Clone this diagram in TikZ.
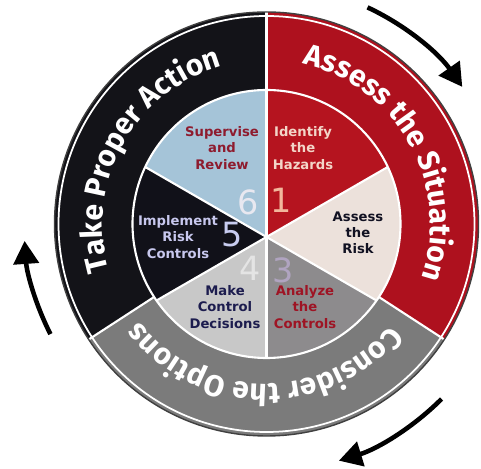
\documentclass[tikz,border=0pt]{standalone}
\usepackage{fontspec}
\setmainfont{DejaVu Sans}
\newfontfamily\ringfont{Fira Sans}
\usepackage{tikz}
\usetikzlibrary{arrows.meta,decorations.text,calc}

\definecolor{ringblack}{HTML}{131318}
\definecolor{ringred}{HTML}{AE111E}
\definecolor{ringgray}{HTML}{7B7B7B}
\definecolor{hazred}{HTML}{B5141F}
\definecolor{riskpink}{HTML}{ECE1DB}
\definecolor{ctrlgray}{HTML}{8D8B8D}
\definecolor{decgray}{HTML}{C8C8C8}
\definecolor{impblack}{HTML}{111119}
\definecolor{revblue}{HTML}{A5C4D8}

\begin{document}
\begin{tikzpicture}[
  seclabel/.style={align=center, font=\fontsize{7.5}{9.2}\selectfont\bfseries},
  secnum/.style={font=\fontsize{19}{19}\selectfont},
  divider/.style={draw=white, line width=1.2pt},
  cycarr/.style={line width=2.6pt, -{Triangle[length=4.6mm,width=5mm]}}]
\useasboundingbox (0,0) rectangle (9.62,9.36);
\coordinate (c) at (5.33,4.88);
\coordinate (hub) at (5.33,4.62);

% outer ring
\foreach \s/\e/\col in {90/-33/ringred, -33/-147/ringgray, 213/90/ringblack}
  \fill[\col] (c) -- ++(\s:4.24) arc[start angle=\s, end angle=\e, radius=4.24] -- cycle;
\foreach \a in {90,-33,213}
  \draw[divider] ($(c)+(\a:2.68)$) -- ($(c)+(\a:4.24)$);
\draw[white, line width=1pt] (c) circle[radius=4.16];
\draw[black!75, line width=0.8pt] (c) circle[radius=4.24];

% ring texts
\path[decorate, decoration={text along path, text align=center,
  text={|\ringfont\bfseries\fontsize{17}{17}\selectfont\color{white}|Assess the Situation}}]
  ($(c)+(99:3.28)$) arc[start angle=99, end angle=-41, radius=3.28];
\path[decorate, decoration={text along path, text align=center,
  text={|\ringfont\bfseries\fontsize{17}{17}\selectfont\color{white}|Take Proper Action}}]
  ($(c)+(221:3.28)$) arc[start angle=221, end angle=81, radius=3.28];
\path[decorate, decoration={text along path, text align=center,
  text={|\ringfont\bfseries\fontsize{17}{17}\selectfont\color{white}|Consider the Options}}]
  ($(c)+(-21:3.2)$) arc[start angle=-21, end angle=-161, radius=3.2];

% inner pie
\begin{scope}
\clip (c) circle[radius=2.68];
\foreach \a/\col in {30/hazred, -30/riskpink, -90/ctrlgray, 210/decgray, 150/impblack, 90/revblue}
  \fill[\col] (hub) -- ++(\a:3.2) arc[start angle=\a, end angle=\a+60, radius=3.2] -- cycle;
\foreach \a in {30,90,...,330}
  \draw[divider] (hub) -- ++(\a:3.2);
\end{scope}
\draw[divider] (c) circle[radius=2.68];

\node[seclabel, text={rgb,255:red,142;green,27;blue,46}] (review) at (4.44,6.40) {Supervise\\and\\Review};
\node[seclabel, text={rgb,255:red,243;green,213;blue,200}] (hazards) at (6.06,6.40) {Identify\\the\\Hazards};
\node[seclabel, text={rgb,255:red,17;green,17;blue,34}] (risk) at (7.16,4.70) {Assess\\the\\Risk};
\node[seclabel, text={rgb,255:red,158;green,20;blue,36}] (analyze) at (6.10,3.22) {Analyze\\the\\Controls};
\node[seclabel, text={rgb,255:red,28;green,28;blue,78}] (decide) at (4.50,3.22) {Make\\Control\\Decisions};
\node[seclabel, text={rgb,255:red,200;green,200;blue,238}] (implement) at (3.56,4.62) {Implement\\Risk\\Controls};

\node[secnum, text={rgb,255:red,232;green,232;blue,240}] (n6) at (4.96,5.32) {6};
\node[secnum, text={rgb,255:red,242;green,183;blue,156}] (n1) at (5.62,5.36) {1};
\node[secnum, text={rgb,255:red,200;green,204;blue,240}] (n5) at (4.64,4.66) {5};
\node[secnum, text={rgb,255:red,228;green,228;blue,228}] (n4) at (5.00,4.00) {4};
\node[secnum, text={rgb,255:red,176;green,164;blue,192}] (n3) at (5.66,3.96) {3};

% cycle arrows
\draw[cycarr] ($(c)+(65:4.78)$) arc[start angle=65, end angle=35, radius=4.78];
\draw[cycarr] ($(c)+(-45:4.95)$) arc[start angle=-45, end angle=-73, radius=4.95];
\draw[cycarr] ($(c)+(207:4.85)$) arc[start angle=207, end angle=184, radius=4.85];
\end{tikzpicture}
\end{document}
